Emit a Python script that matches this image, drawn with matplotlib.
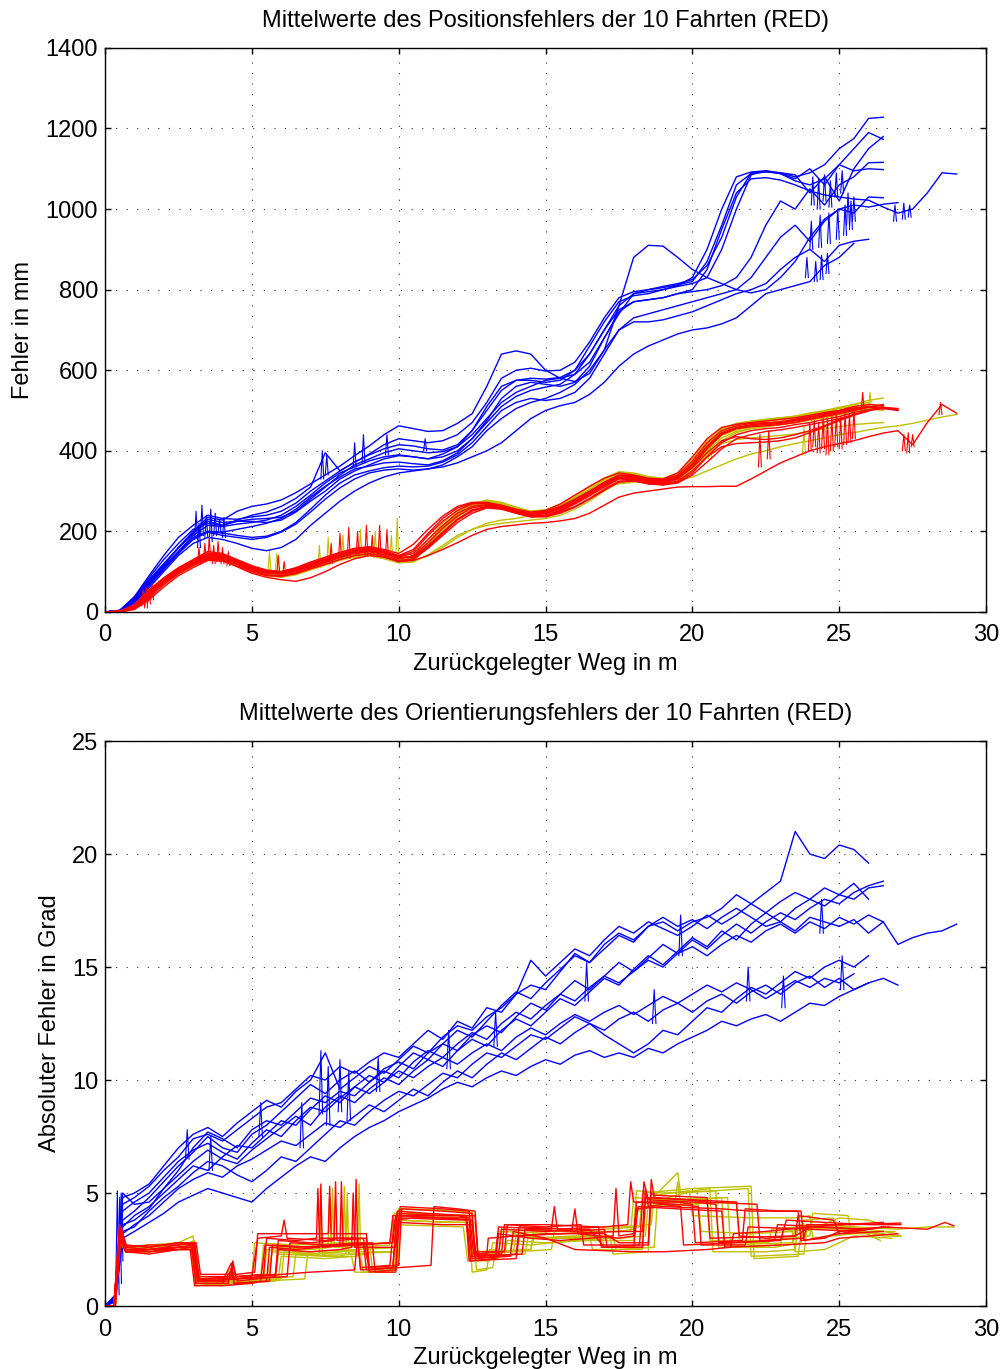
import numpy as np
import matplotlib.pyplot as plt

plt.rcParams['font.family'] = ['Liberation Sans', 'DejaVu Sans']

# ---------------- Positionsfehler (oben), Raster 0.5 m ----------------
x_pos = np.arange(0, 29.01, 0.5)

pos_blue = [
    [0, 3, 30, 75, 115, 160, 200, 235, 228, 250,
     262, 268, 278, 296, 318, 340, 362, 388, 412, 440,
     462, 455, 448, 450, 468, 492, 560, 640, 648, 640,
     600, 580, 572, 592, 650, 760, 880, 910, 908, 880,
     850, 830, 815, 800, 792, 800, 830, 870, 930, 975,
     1000, 1010, 1005, 1012, 1016],
    [0, 4, 35, 85, 130, 170, 205, 220, 215, 225,
     230, 232, 235, 250, 280, 310, 340, 365, 380, 395,
     405, 400, 395, 398, 410, 440, 480, 520, 545, 560,
     575, 580, 590, 620, 680, 740, 790, 800, 805, 812,
     820, 870, 960, 1060, 1088, 1092, 1090, 1080, 1090, 1110,
     1150, 1175, 1225, 1228],
    [0, 3, 28, 70, 110, 150, 190, 215, 212, 218,
     222, 228, 240, 262, 290, 320, 345, 360, 375, 385,
     390, 385, 380, 392, 410, 450, 510, 560, 575, 575,
     570, 575, 600, 660, 720, 770, 785, 790, 800, 810,
     830, 900, 1000, 1080, 1092, 1095, 1088, 1070, 1060, 1075,
     1110, 1150, 1190, 1173],
    [0, 2, 25, 65, 105, 145, 180, 200, 198, 205,
     212, 220, 232, 255, 285, 312, 335, 355, 362, 370,
     372, 368, 365, 375, 395, 430, 470, 510, 535, 550,
     558, 565, 590, 640, 700, 750, 770, 775, 780, 790,
     800, 850, 950, 1040, 1075, 1078, 1072, 1060, 1045, 1035,
     1030, 1025, 1022, 1005, 990, 1000, 1040, 1090, 1087],
    [0, 3, 32, 80, 120, 160, 195, 230, 222, 225,
     225, 222, 228, 248, 275, 300, 330, 350, 365, 380,
     388, 385, 380, 385, 400, 430, 475, 530, 560, 570,
     565, 560, 570, 610, 680, 745, 770, 775, 780, 790,
     795, 800, 810, 830, 880, 960, 1020, 1000, 1050, 1010,
     1060, 1080, 1115, 1116],
    [0, 2, 22, 60, 100, 140, 170, 185, 180, 170,
     158, 152, 160, 180, 215, 245, 275, 300, 320, 335,
     345, 350, 355, 360, 370, 385, 400, 420, 450, 480,
     500, 512, 520, 540, 570, 610, 640, 660, 675, 690,
     700, 705, 715, 730, 760, 790, 800, 810, 820, 860,
     880, 915],
    [0, 3, 30, 72, 112, 150, 185, 200, 196, 190,
     185, 188, 200, 222, 255, 290, 320, 340, 350, 358,
     362, 360, 362, 372, 390, 420, 460, 500, 520, 530,
     525, 530, 545, 580, 640, 700, 730, 740, 750, 760,
     770, 780, 790, 800, 830, 880, 930, 960, 920, 970,
     1000, 990, 1030, 1028],
    [0, 4, 38, 90, 140, 185, 215, 240, 232, 230,
     236, 240, 250, 270, 300, 325, 350, 372, 390, 405,
     415, 412, 405, 402, 415, 450, 500, 550, 575, 580,
     578, 582, 600, 640, 700, 760, 790, 795, 800, 808,
     815, 830, 900, 1000, 1085, 1095, 1090, 1085, 1040, 1080,
     1020, 1100, 1150, 1180],
    [0, 2, 26, 68, 108, 148, 180, 198, 190, 185,
     180, 185, 198, 218, 248, 280, 308, 330, 345, 352,
     355, 352, 355, 365, 385, 410, 450, 480, 505, 520,
     530, 545, 565, 600, 650, 700, 720, 720, 725, 735,
     745, 760, 775, 790, 800, 815, 850, 880, 900, 870,
     910, 920, 925],
    [0, 3, 33, 78, 118, 158, 195, 225, 215, 228,
     240, 248, 262, 282, 310, 395, 350, 372, 392, 415,
     430, 425, 420, 425, 440, 470, 520, 580, 600, 605,
     598, 600, 620, 670, 730, 780, 795, 800, 808, 815,
     825, 860, 930, 1030, 1090, 1093, 1088, 1075, 1100, 1060,
     1110, 1095, 1100, 1098],
]

pos_red = [
    [0, 2, 15, 50, 80, 105, 125, 145, 140, 125,
     110, 100, 98, 108, 120, 130, 142, 152, 158, 150,
     138, 150, 190, 225, 252, 268, 270, 262, 252, 245,
     250, 262, 280, 300, 322, 340, 338, 330, 328, 340,
     375, 420, 450, 462, 468, 470, 472, 478, 485, 490,
     498, 505, 510, 505, 502],
    [0, 1, 12, 45, 75, 100, 120, 138, 135, 120,
     105, 96, 95, 102, 115, 126, 138, 148, 152, 146,
     132, 140, 172, 208, 238, 258, 265, 258, 248, 240,
     244, 255, 272, 292, 315, 332, 330, 322, 320, 330,
     360, 405, 440, 455, 460, 462, 465, 470, 478, 485,
     492, 500, 508, 515],
    [0, 0, 8, 35, 68, 95, 115, 132, 130, 118,
     102, 92, 90, 97, 110, 122, 135, 145, 150, 142,
     128, 132, 158, 190, 222, 245, 258, 255, 245, 236,
     238, 248, 262, 282, 305, 325, 326, 318, 316, 322,
     345, 385, 420, 440, 450, 455, 458, 465, 470, 478,
     485, 495, 502, 508],
    [0, 1, 10, 40, 72, 98, 118, 135, 132, 120,
     106, 98, 96, 104, 116, 128, 140, 150, 155, 148,
     135, 138, 165, 198, 230, 252, 262, 258, 248, 238,
     240, 250, 268, 288, 310, 330, 328, 320, 318, 325,
     350, 385, 410, 418, 420, 422, 425, 432, 445, 460,
     475, 488, 500, 508, 505],
    [0, 0, 6, 30, 62, 90, 110, 128, 126, 114,
     100, 90, 88, 95, 107, 118, 130, 140, 145, 138,
     125, 128, 140, 155, 172, 190, 205, 212, 216, 220,
     222, 226, 232, 245, 265, 285, 295, 300, 305, 310,
     311, 311, 312, 312, 330, 350, 370, 385, 400, 410,
     418, 425, 435, 444, 450, 415, 470, 515, 493],
    [0, 2, 18, 55, 85, 110, 130, 150, 145, 130,
     115, 104, 100, 110, 124, 136, 148, 158, 162, 155,
     145, 168, 205, 238, 262, 272, 272, 265, 255, 248,
     252, 268, 290, 312, 332, 345, 340, 332, 330, 345,
     385, 430, 458, 466, 470, 474, 478, 482, 488, 495,
     500, 510, 515, 512],
    [0, 1, 10, 42, 74, 100, 118, 132, 128, 112,
     96, 86, 80, 76, 85, 100, 118, 132, 140, 136,
     125, 130, 160, 195, 228, 250, 260, 256, 245, 236,
     236, 245, 260, 280, 302, 322, 325, 318, 315, 320,
     340, 372, 405, 430, 440, 448, 452, 458, 465, 472,
     480, 490, 498],
    [0, 2, 16, 52, 82, 108, 128, 146, 142, 128,
     112, 102, 100, 108, 121, 133, 146, 156, 160, 152,
     140, 155, 195, 232, 258, 270, 268, 260, 250, 244,
     248, 260, 278, 298, 320, 338, 336, 328, 326, 336,
     368, 412, 445, 458, 465, 468, 470, 476, 483, 492,
     500, 506, 508, 504],
    [0, 1, 12, 46, 77, 102, 121, 140, 136, 122,
     107, 97, 94, 100, 113, 125, 138, 148, 153, 146,
     134, 136, 162, 196, 230, 253, 262, 257, 247, 238,
     240, 252, 270, 292, 314, 333, 332, 325, 322, 332,
     358, 395, 425, 435, 430, 428, 432, 440, 450, 462,
     478, 490, 500, 505, 500],
    [0, 1, 14, 48, 78, 104, 123, 142, 138, 124,
     108, 99, 97, 105, 118, 130, 143, 153, 157, 150,
     137, 145, 180, 215, 245, 262, 266, 259, 250, 242,
     245, 258, 275, 295, 318, 335, 334, 326, 324, 334,
     365, 410, 442, 456, 462, 465, 468, 474, 480, 488,
     495, 503, 510, 508, 502],
]

pos_yellow = [
    [0, 1, 12, 46, 78, 104, 124, 140, 138, 125,
     110, 100, 96, 104, 116, 128, 138, 145, 148, 140,
     128, 135, 170, 210, 245, 268, 278, 272, 260, 250,
     252, 262, 282, 305, 328, 345, 342, 334, 330, 340,
     372, 418, 452, 465, 472, 478, 482, 485, 490, 495,
     505, 515, 525, 531],
    [0, 1, 10, 42, 74, 100, 120, 136, 134, 120,
     104, 94, 90, 96, 108, 120, 130, 138, 140, 132,
     122, 128, 160, 200, 236, 262, 275, 270, 258, 248,
     250, 260, 278, 300, 322, 340, 338, 330, 326, 336,
     366, 410, 448, 462, 470, 475, 480, 486, 494, 500,
     508, 515, 520],
    [0, 0, 8, 38, 70, 96, 116, 134, 131, 118,
     102, 92, 88, 94, 106, 118, 130, 138, 142, 135,
     124, 126, 140, 160, 185, 205, 220, 228, 232, 240,
     250, 265, 285, 300, 310, 318, 322, 324, 326, 328,
     335, 350, 365, 380, 392, 400, 410, 418, 425, 432,
     440, 445, 452, 458, 462, 468, 476, 484, 490],
    [0, 2, 14, 50, 80, 106, 126, 142, 140, 126,
     112, 104, 100, 108, 120, 132, 140, 146, 146, 138,
     130, 140, 180, 220, 252, 270, 276, 268, 258, 250,
     254, 266, 286, 310, 332, 348, 345, 336, 332, 345,
     380, 425, 455, 468, 474, 478, 482, 486, 492, 498,
     505, 510, 515, 512],
    [0, 1, 10, 44, 76, 102, 120, 137, 134, 121,
     106, 97, 92, 98, 110, 122, 132, 140, 142, 134,
     124, 130, 165, 205, 240, 264, 272, 266, 256, 246,
     248, 258, 275, 296, 318, 336, 335, 328, 324, 332,
     360, 402, 438, 452, 458, 462, 466, 470, 478, 486,
     495, 502, 508],
    [0, 1, 11, 44, 75, 101, 121, 138, 135, 122,
     106, 96, 92, 99, 111, 123, 133, 140, 143, 136,
     125, 130, 162, 200, 235, 260, 270, 264, 254, 245,
     247, 256, 272, 292, 314, 332, 332, 326, 322, 330,
     356, 392, 418, 428, 432, 435, 438, 442, 448, 455,
     460, 465, 468, 470],
    [0, 2, 15, 50, 80, 105, 125, 141, 138, 124,
     108, 99, 95, 102, 114, 126, 136, 143, 145, 137,
     126, 134, 172, 212, 248, 268, 276, 270, 258, 249,
     250, 262, 280, 302, 324, 342, 340, 332, 328, 338,
     370, 415, 450, 464, 470, 474, 478, 483, 488, 494,
     500, 506, 512],
    [0, 0, 8, 36, 68, 94, 114, 132, 130, 116,
     100, 90, 86, 92, 104, 116, 128, 136, 140, 134,
     122, 124, 142, 165, 190, 205, 215, 220, 224, 228,
     232, 240, 255, 275, 300, 322, 326, 322, 320, 328,
     352, 388, 425, 445, 455, 460, 465, 470, 476, 482,
     490, 498, 505, 510],
    [0, 1, 13, 47, 78, 103, 122, 139, 136, 123,
     108, 98, 94, 101, 113, 125, 135, 142, 144, 136,
     125, 132, 168, 208, 244, 266, 274, 268, 257, 247,
     249, 260, 277, 298, 320, 338, 337, 330, 326, 334,
     362, 405, 442, 456, 462, 468, 474, 480, 486, 492,
     498, 505, 510],
    [0, 1, 11, 45, 76, 102, 121, 138, 135, 122,
     107, 97, 93, 100, 112, 124, 134, 141, 143, 135,
     124, 130, 164, 202, 238, 262, 272, 266, 256, 247,
     249, 259, 276, 297, 318, 336, 336, 329, 325, 333,
     358, 398, 432, 448, 455, 460, 465, 470, 476, 484,
     490, 498, 505, 500],
]

# kurze Ausreisser (Position): Ort, Grundwert, Spitzenwert
pos_blue_spk_x = [3.1, 3.2, 3.3, 3.45, 3.6, 3.75, 3.9, 4.05, 7.4, 7.55, 8.5, 8.8, 9.6, 10.9,
                  23.9, 24.1, 24.2, 24.3, 24.4, 24.5, 24.6, 24.7, 24.9, 25.1, 25.3, 25.5,
                  24.05, 24.35, 24.65, 24.95, 25.2, 25.4,
                  26.9, 27.2, 27.4]
pos_blue_spk_lo = [180, 160, 190, 185, 175, 190, 195, 185, 330, 340, 360, 370, 390, 400,
                   830, 1010, 820, 1000, 825, 1020, 840, 1005, 1030, 1040, 960, 970,
                   900, 905, 915, 925, 935, 950,
                   970, 975, 980]
pos_blue_spk_hi = [250, 220, 265, 240, 255, 245, 230, 235, 400, 390, 420, 440, 440, 430,
                   880, 1080, 870, 1075, 885, 1085, 890, 1070, 1090, 1095, 1040, 1030,
                   970, 985, 990, 1000, 1010, 1020,
                   1010, 1015, 1010]

pos_red_spk_x = [1.3, 1.4, 1.5, 1.6, 3.2, 3.4, 3.55, 3.7, 3.85, 4.0, 4.2, 5.9, 6.1,
                 7.7, 8.0, 8.3, 8.6, 8.9, 9.1, 9.35, 9.6, 22.3, 22.6,
                 24.0, 24.15, 24.3, 24.45, 24.6, 24.75, 24.9, 25.05, 25.2, 25.35, 25.5,
                 25.8, 27.2, 27.35, 27.5, 28.45]
pos_red_spk_lo = [15, 10, 20, 30, 120, 125, 130, 120, 125, 120, 115, 95, 95,
                  120, 130, 135, 140, 140, 140, 138, 135, 360, 380,
                  400, 410, 395, 405, 390, 400, 410, 405, 415, 420, 430,
                  500, 400, 395, 410, 490]
pos_red_spk_hi = [55, 60, 50, 70, 160, 170, 185, 165, 175, 160, 150, 140, 125,
                  170, 195, 210, 200, 215, 190, 215, 205, 440, 450,
                  470, 475, 470, 480, 478, 485, 490, 485, 495, 492, 500,
                  545, 440, 445, 440, 520]

pos_yel_spk_x = [5.6, 5.85, 7.3, 7.6, 8.1, 8.7, 9.2, 9.75, 9.95, 20.6, 23.8, 24.5, 26.05]
pos_yel_spk_lo = [100, 100, 110, 120, 130, 135, 135, 130, 130, 380, 390, 430, 505]
pos_yel_spk_hi = [150, 145, 165, 185, 190, 205, 200, 190, 232, 430, 460, 470, 546]

# ---------------- Orientierungsfehler (unten) ----------------
x_ori = np.concatenate([[0, 0.35, 0.6], np.arange(1.0, 29.01, 0.5)])

ori_blue = [
    [0, 0.3, 4.5, 4.8, 5.3, 6.0, 6.6, 7.4, 7.6, 7.3, 7.8,
     8.3, 8.8, 9.0, 9.6, 10.2, 10.0, 10.6, 10.3, 10.8, 11.2,
     11.0, 11.6, 12.2, 11.8, 12.6, 12.3, 13.2, 13.0, 13.8, 14.2,
     14.0, 14.8, 15.6, 15.2, 16.0, 16.5, 16.2, 16.8, 17.0, 16.6,
     17.0, 17.2, 17.6, 18.2, 17.8, 18.3, 18.8, 21.0, 20.0, 19.8,
     20.4, 20.2, 19.6],
    [0, 0.3, 3.8, 4.2, 4.8, 5.5, 6.2, 6.8, 7.5, 7.0, 6.8,
     7.6, 8.0, 8.6, 9.2, 9.8, 9.4, 10.0, 10.4, 9.9, 10.5,
     10.8, 10.5, 11.2, 11.6, 11.3, 12.0, 12.4, 12.1, 12.8, 13.4,
     13.1, 13.8, 14.4, 14.0, 14.6, 15.2, 14.8, 15.4, 16.0, 15.6,
     16.2, 15.8, 16.4, 16.9, 16.5, 17.0, 17.4, 17.1, 17.6, 18.0,
     17.8, 18.3, 18.6, 18.8],
    [0, 0.4, 5.0, 4.5, 4.6, 5.2, 5.8, 6.4, 6.9, 6.5, 6.3,
     6.9, 7.4, 7.9, 8.4, 8.0, 8.8, 9.3, 9.0, 9.6, 10.1,
     9.8, 10.4, 10.9, 10.6, 11.3, 11.8, 11.5, 12.2, 12.7, 12.4,
     13.0, 13.6, 13.3, 13.9, 14.5, 14.2, 14.9, 15.5, 15.1, 15.7,
     16.3, 15.9, 16.6, 16.2, 16.9, 17.4, 17.0, 17.6, 18.0, 17.7,
     18.2, 18.0, 18.5, 18.6],
    [0, 0.3, 3.5, 4.0, 4.4, 5.0, 5.6, 6.2, 6.0, 6.6, 7.1,
     7.0, 7.6, 8.2, 8.0, 8.7, 9.3, 9.0, 9.7, 10.2, 9.9,
     10.6, 11.2, 10.9, 11.6, 12.2, 11.9, 12.6, 13.3, 13.9, 13.6,
     14.3, 14.9, 15.5, 15.2, 15.8, 16.4, 16.1, 16.8, 17.2, 16.8,
     17.1, 16.7, 17.2, 17.6, 17.2, 16.8, 17.0, 16.6, 17.2, 17.0,
     16.8, 17.1, 16.5, 17.0, 16.0, 16.3, 16.5, 16.6, 16.9],
    [0, 0.2, 3.2, 3.6, 4.0, 4.6, 5.2, 5.6, 5.9, 5.7, 6.2,
     6.5, 6.9, 7.3, 7.1, 7.6, 8.1, 7.9, 8.4, 8.9, 8.6,
     9.1, 9.6, 9.3, 9.9, 10.4, 10.1, 10.7, 11.2, 10.9, 11.4,
     11.9, 11.6, 12.1, 12.5, 12.2, 12.7, 13.0, 12.6, 13.1, 13.4,
     13.0, 13.5, 13.8, 13.4, 13.9, 14.2, 13.8, 14.3, 14.6, 14.1,
     14.5, 14.0, 14.3, 14.5, 14.2],
    [0, 0.2, 3.0, 3.3, 3.7, 4.1, 4.6, 4.9, 5.2, 5.0, 4.8,
     4.6, 5.2, 5.7, 6.2, 6.6, 6.4, 7.0, 7.5, 7.9, 8.2,
     8.6, 8.9, 9.2, 9.6, 9.9, 9.7, 10.1, 10.4, 10.2, 10.6,
     10.9, 10.7, 11.1, 11.3, 11.0, 11.2, 11.0, 11.4, 11.2, 11.6,
     11.9, 12.2, 12.6, 12.4, 12.7, 12.9, 12.6, 13.0, 13.4, 13.3,
     13.7, 14.0, 14.3],
    [0, 0.4, 3.6, 3.8, 4.3, 5.2, 6.0, 7.0, 7.7, 7.4, 7.0,
     7.8, 8.2, 8.0, 8.6, 9.2, 9.0, 9.5, 9.3, 9.9, 10.4,
     10.1, 10.8, 11.3, 11.0, 11.6, 12.1, 11.8, 12.5, 13.0, 12.7,
     13.3, 13.8, 13.5, 14.1, 14.6, 14.3, 14.8, 15.3, 15.0, 15.6,
     15.9, 15.5, 16.0, 16.4, 16.1, 16.6, 16.9, 16.5, 17.0, 16.7,
     17.2, 16.9, 17.3, 17.0],
    [0, 0.3, 3.3, 3.5, 4.2, 4.8, 5.3, 5.9, 6.4, 6.2, 5.8,
     5.5, 6.0, 6.6, 6.4, 7.0, 7.6, 8.2, 8.0, 8.6, 9.1,
     9.5, 9.3, 9.8, 10.3, 10.1, 10.7, 11.2, 11.0, 11.5, 12.0,
     11.8, 12.3, 12.8, 12.5, 12.0, 11.6, 11.2, 11.6, 12.2, 12.0,
     12.6, 13.2, 13.0, 13.6, 14.1, 13.8, 14.3, 14.8, 14.5, 15.0,
     15.3, 15.0, 15.5],
    [0, 0.4, 4.2, 4.6, 5.0, 5.7, 6.4, 6.9, 7.2, 6.8, 6.5,
     7.2, 7.8, 7.5, 8.2, 8.8, 8.6, 9.2, 9.7, 9.4, 9.9,
     10.4, 10.1, 10.6, 11.0, 10.7, 11.2, 11.6, 11.3, 11.9, 12.3,
     12.0, 12.5, 12.9, 12.6, 13.0, 13.3, 12.9, 13.3, 13.7, 13.4,
     13.8, 14.2, 13.9, 14.3, 14.0, 13.6, 14.0, 14.4, 14.1, 14.5,
     14.3, 14.7],
    [0, 0.5, 4.8, 5.0, 5.4, 6.2, 7.0, 7.6, 7.9, 7.5, 8.1,
     8.6, 9.1, 8.8, 9.5, 10.0, 11.2, 9.6, 10.1, 10.6, 10.3,
     10.9, 11.5, 11.2, 11.9, 12.4, 12.2, 12.8, 13.2, 13.8, 15.3,
     14.6, 15.2, 15.8, 15.5, 16.2, 16.8, 16.5, 17.0, 16.7, 16.4,
     16.8, 17.3, 16.9, 17.3, 17.8, 17.4, 17.9, 18.3, 18.0, 18.5,
     18.2, 18.7, 18.0],
]

ori_blue_spk_x = [0.42, 0.5, 0.55, 2.8, 3.6, 5.3, 6.7, 7.35, 7.6, 8.0, 8.3, 9.3, 11.7,
                  13.3, 16.4, 18.7, 19.6, 21.9, 23.1, 24.4, 25.1]
ori_blue_spk_lo = [0.5, 1.0, 2.0, 6.5, 6.0, 7.5, 7.0, 8.5, 8.0, 8.6, 8.2, 9.5, 10.5,
                   11.5, 13.5, 12.5, 15.5, 13.5, 13.2, 16.5, 14.0]
ori_blue_spk_hi = [5.1, 4.8, 5.0, 7.8, 7.5, 9.0, 9.0, 11.3, 10.6, 10.9, 10.4, 11.0, 12.2,
                   13.0, 15.2, 14.0, 17.3, 15.0, 14.6, 18.0, 15.5]

# Stufenverlaeufe (x, Fehler) der roten Fahrten
ori_red = [
    [(0, 0), (0.3, 0), (0.5, 3.5), (0.7, 2.6), (1.5, 2.5), (2.5, 2.7), (3.0, 2.8), (3.15, 1.2),
     (4.0, 1.1), (4.3, 1.9), (4.4, 1.2), (5.0, 1.3), (5.2, 3.0), (6.0, 3.1), (6.1, 3.8), (6.2, 3.0),
     (7.5, 2.9), (8.0, 3.0), (8.8, 3.0), (9.0, 1.6), (9.8, 1.7), (9.95, 4.2), (11.0, 4.1), (12.3, 4.0),
     (12.5, 2.2), (13.4, 2.3), (13.5, 3.4), (15.0, 3.3), (16.5, 3.4), (17.0, 2.6), (18.2, 2.7),
     (18.35, 5.5), (18.5, 4.7), (20.0, 4.6), (20.8, 4.5), (20.9, 2.8), (23.0, 2.9), (23.2, 3.8),
     (24.5, 3.7), (26.0, 3.6), (27.1, 3.6)],
    [(0, 0), (0.35, 0), (0.55, 3.2), (0.75, 2.4), (1.5, 2.4), (2.5, 2.5), (2.95, 2.6), (3.1, 1.0),
     (4.2, 1.0), (4.3, 1.7), (4.4, 1.0), (5.5, 1.1), (5.6, 2.6), (6.5, 2.5), (7.3, 2.6), (7.35, 5.4),
     (7.4, 2.6), (8.5, 2.7), (9.8, 2.8), (9.9, 4.0), (11.5, 3.9), (12.5, 3.8), (12.6, 2.1), (14.0, 2.3),
     (14.1, 3.5), (15.9, 3.4), (16.0, 4.3), (16.1, 3.2), (17.5, 3.0), (18.0, 3.1), (18.1, 4.6),
     (19.5, 4.5), (20.2, 4.4), (20.3, 2.7), (21.8, 2.7), (21.9, 3.5), (24.0, 3.4), (25.5, 3.3),
     (26.5, 3.5), (28.0, 3.4), (28.6, 3.7), (28.9, 3.55)],
    [(0, 0), (0.3, 0), (0.5, 3.6), (0.65, 2.7), (1.5, 2.6), (2.5, 2.8), (3.05, 2.7), (3.2, 1.3),
     (4.3, 1.3), (4.35, 2.0), (4.45, 1.3), (5.8, 1.4), (5.9, 2.9), (7.0, 2.8), (7.8, 2.9), (7.85, 5.5),
     (7.9, 2.9), (8.9, 3.0), (9.0, 1.5), (9.9, 1.6), (10.05, 4.4), (11.5, 4.3), (12.4, 4.2),
     (12.55, 2.3), (13.0, 2.3), (13.05, 3.0), (14.0, 3.1), (15.0, 3.2), (17.0, 3.2), (17.5, 2.8),
     (18.5, 2.8), (18.6, 5.6), (18.7, 4.8), (20.0, 4.7), (21.5, 4.6), (21.6, 3.1), (22.5, 3.0),
     (23.5, 3.1), (24.0, 3.5), (26.0, 3.4), (26.5, 3.5)],
    [(0, 0), (0.3, 0), (0.5, 3.3), (0.7, 2.5), (1.5, 2.5), (2.5, 2.6), (3.0, 2.6), (3.15, 1.1),
     (4.5, 1.2), (6.0, 1.4), (7.0, 1.5), (8.5, 1.6), (8.6, 3.0), (8.7, 1.7), (9.7, 1.8), (9.85, 3.8),
     (10.5, 3.9), (12.3, 3.9), (12.45, 2.0), (13.3, 2.1), (13.4, 3.2), (14.5, 3.0), (15.5, 2.9),
     (16.5, 3.0), (17.3, 3.1), (17.4, 5.2), (17.5, 3.1), (18.0, 3.2), (18.1, 4.3), (19.0, 4.4),
     (21.0, 4.3), (22.0, 4.2), (23.6, 4.2), (23.7, 2.9), (24.5, 3.0), (25.0, 3.3), (26.0, 3.4)],
    [(0, 0), (0.35, 0), (0.5, 3.0), (0.7, 2.4), (1.5, 2.3), (2.5, 2.5), (2.9, 2.5), (3.05, 0.9),
     (4.0, 0.9), (5.0, 1.0), (5.3, 1.1), (5.45, 2.7), (6.5, 2.6), (8.0, 2.7), (8.05, 5.5), (8.1, 2.7),
     (9.1, 2.8), (9.2, 1.5), (9.9, 1.5), (10.0, 3.7), (11.5, 3.6), (12.5, 3.6), (12.65, 2.2),
     (14.2, 2.3), (14.3, 3.4), (16.0, 3.3), (17.0, 3.4), (17.1, 2.6), (18.0, 2.6), (18.15, 4.4),
     (19.5, 4.3), (21.0, 4.2), (21.1, 2.6), (23.0, 2.7), (24.5, 2.8), (25.0, 3.0), (26.0, 3.1),
     (27.0, 3.2)],
    [(0, 0), (0.3, 0), (0.55, 3.4), (0.75, 2.6), (1.5, 2.7), (2.5, 2.7), (3.1, 2.8), (3.25, 1.4),
     (4.5, 1.4), (5.1, 1.5), (5.2, 3.2), (6.5, 3.2), (7.6, 3.2), (7.65, 5.3), (7.7, 3.2), (8.9, 3.2),
     (9.0, 1.7), (10.0, 1.8), (10.1, 4.3), (11.5, 4.2), (12.5, 4.1), (12.6, 2.4), (13.6, 2.4),
     (13.7, 3.6), (15.0, 3.5), (16.2, 3.6), (16.3, 2.7), (18.5, 2.7), (18.6, 5.0), (18.7, 4.9),
     (20.5, 4.8), (20.6, 3.0), (23.5, 3.1), (23.6, 4.0), (24.8, 3.8), (25.0, 3.2), (26.0, 3.4)],
    [(0, 0), (0.3, 0), (0.5, 3.2), (0.7, 2.5), (1.5, 2.4), (2.5, 2.6), (2.95, 2.6), (3.1, 1.0),
     (4.0, 1.0), (4.3, 1.6), (4.4, 1.0), (5.6, 1.1), (5.7, 2.7), (7.0, 2.6), (8.5, 2.7), (8.55, 5.6),
     (8.6, 2.7), (9.7, 2.8), (9.8, 4.0), (12.0, 4.0), (12.4, 3.9), (12.5, 2.1), (13.8, 2.2),
     (13.9, 3.3), (15.0, 3.0), (16.0, 2.5), (18.0, 2.4), (19.0, 2.4), (20.5, 2.5), (21.3, 2.6),
     (21.4, 3.2), (22.5, 3.3), (24.0, 3.5), (25.0, 3.6), (26.5, 3.7)],
    [(0, 0), (0.3, 0), (0.5, 3.3), (0.7, 2.5), (1.5, 2.5), (2.5, 2.6), (3.0, 2.7), (3.15, 1.2),
     (4.5, 1.2), (6.2, 1.3), (6.3, 2.8), (7.5, 2.7), (8.8, 2.8), (8.9, 1.6), (10.0, 1.7), (11.1, 1.8),
     (11.2, 4.4), (12.0, 4.3), (12.6, 4.2), (12.7, 2.3), (13.3, 2.4), (13.4, 3.5), (15.2, 3.4),
     (15.3, 4.4), (15.4, 3.4), (17.0, 3.5), (17.8, 3.6), (17.9, 5.5), (18.0, 4.6), (19.5, 4.6),
     (20.0, 4.5), (20.1, 2.8), (21.7, 2.9), (21.8, 4.3), (23.0, 4.2), (23.7, 4.2), (23.8, 2.9),
     (25.0, 3.2), (26.5, 3.3)],
    [(0, 0), (0.35, 0), (0.5, 3.1), (0.7, 2.4), (1.5, 2.5), (2.5, 2.5), (3.0, 2.5), (3.2, 1.1),
     (4.2, 1.1), (4.35, 1.9), (4.5, 1.1), (5.8, 1.3), (5.9, 2.5), (7.0, 2.4), (8.0, 2.5), (8.4, 2.6),
     (8.45, 5.0), (8.5, 2.6), (9.9, 2.6), (10.0, 3.9), (12.3, 3.8), (12.4, 2.0), (14.0, 2.1),
     (14.1, 3.1), (15.5, 3.2), (17.5, 3.3), (18.3, 3.3), (18.4, 5.2), (18.5, 4.4), (19.0, 4.5),
     (19.6, 4.4), (19.7, 2.7), (21.5, 2.8), (22.8, 2.9), (22.9, 3.6), (24.5, 3.5), (25.5, 3.4),
     (26.7, 3.5)],
    [(0, 0), (0.3, 0), (0.55, 3.5), (0.7, 2.7), (1.5, 2.6), (2.5, 2.8), (3.05, 2.8), (3.2, 1.2),
     (4.4, 1.3), (5.4, 1.4), (5.5, 3.0), (6.5, 2.9), (7.2, 3.0), (7.25, 5.2), (7.3, 3.0), (8.6, 3.0),
     (8.7, 1.6), (9.8, 1.7), (9.95, 4.1), (11.5, 4.0), (12.6, 4.0), (12.7, 2.2), (13.5, 2.3),
     (13.6, 3.6), (15.0, 3.6), (16.8, 3.5), (16.9, 2.6), (18.3, 2.6), (18.4, 4.8), (19.8, 4.7),
     (20.5, 4.6), (22.2, 4.5), (22.3, 2.9), (23.8, 3.0), (23.9, 3.6), (25.5, 3.6), (27.1, 3.67)],
]

ori_yellow = [
    [(0, 0), (0.3, 0), (0.5, 3.0), (0.7, 2.6), (1.5, 2.6), (2.5, 2.8), (3.0, 3.1), (3.15, 1.1),
     (4.5, 1.1), (5.5, 1.2), (5.7, 2.4), (7.0, 2.3), (8.0, 2.4), (8.6, 2.5), (8.65, 5.4), (8.7, 2.5),
     (9.9, 2.6), (10.05, 4.2), (11.5, 4.0), (12.5, 4.0), (12.65, 1.6), (13.2, 1.7), (13.3, 2.4),
     (14.5, 2.5), (14.6, 3.0), (17.5, 3.0), (18.4, 3.1), (18.5, 4.6), (19.5, 5.9), (19.6, 5.0),
     (21.9, 5.2), (22.0, 2.2), (23.8, 2.3), (23.9, 3.4), (25.0, 3.5), (26.5, 3.1), (27.1, 3.08)],
    [(0, 0), (0.35, 0), (0.5, 2.8), (0.7, 2.5), (1.5, 2.5), (2.5, 2.6), (3.05, 2.9), (3.2, 1.0),
     (4.0, 0.9), (5.0, 1.1), (5.9, 1.2), (6.0, 2.2), (7.5, 2.1), (8.5, 2.2), (8.9, 2.3), (9.0, 1.6),
     (9.9, 1.6), (10.0, 4.0), (12.4, 3.9), (12.5, 2.3), (13.8, 2.4), (13.9, 3.2), (15.0, 3.0),
     (16.5, 3.1), (16.6, 2.5), (18.3, 2.5), (18.4, 4.5), (20.0, 5.1), (20.6, 5.2), (20.7, 2.4),
     (22.5, 2.4), (23.5, 2.5), (23.6, 3.6), (25.5, 3.5), (26.4, 2.9)],
    [(0, 0), (0.3, 0), (0.5, 3.1), (0.7, 2.5), (1.5, 2.6), (2.5, 2.7), (3.0, 2.8), (3.1, 1.3),
     (4.5, 1.3), (5.6, 1.4), (5.7, 2.6), (7.0, 2.5), (7.7, 2.6), (7.75, 5.2), (7.8, 2.6), (9.7, 2.7),
     (9.8, 3.8), (12.3, 3.7), (12.45, 2.1), (13.3, 2.2), (13.4, 3.3), (15.5, 3.2), (17.0, 3.3),
     (17.9, 3.3), (18.0, 4.8), (19.0, 4.7), (21.2, 4.8), (21.3, 2.6), (23.0, 2.7), (23.1, 3.3),
     (25.0, 3.5), (26.0, 3.4), (27.0, 3.2)],
    [(0, 0), (0.35, 0), (0.5, 2.9), (0.7, 2.4), (1.5, 2.4), (2.5, 2.5), (2.9, 2.6), (3.05, 1.1),
     (4.2, 1.0), (5.2, 1.2), (6.4, 1.3), (6.5, 2.3), (8.0, 2.2), (8.2, 2.3), (8.25, 5.0), (8.3, 2.3),
     (9.9, 2.4), (10.0, 4.3), (12.5, 4.2), (12.6, 2.4), (14.5, 2.5), (14.6, 3.4), (16.0, 3.3),
     (17.0, 3.4), (18.2, 3.5), (18.3, 5.0), (20.0, 5.2), (22.0, 5.3), (22.1, 2.1), (23.6, 2.2),
     (23.7, 3.2), (25.0, 3.9), (26.0, 3.8), (26.5, 3.6)],
    [(0, 0), (0.3, 0), (0.5, 3.2), (0.7, 2.6), (1.5, 2.7), (2.5, 2.8), (3.1, 2.8), (3.25, 1.2),
     (4.5, 1.2), (5.0, 1.3), (5.1, 2.8), (6.5, 2.7), (8.0, 2.8), (9.0, 2.8), (9.1, 1.7), (9.95, 1.7),
     (10.1, 4.1), (12.5, 4.0), (12.6, 2.2), (13.6, 2.3), (13.7, 2.9), (15.0, 2.8), (16.5, 2.9),
     (18.0, 2.9), (18.1, 4.2), (19.0, 4.6), (20.5, 4.6), (20.6, 2.9), (22.5, 2.9), (24.0, 3.1),
     (24.1, 4.1), (25.3, 4.0), (25.4, 3.3), (26.5, 3.2)],
    [(0, 0), (0.3, 0), (0.5, 2.9), (0.7, 2.5), (1.5, 2.5), (2.5, 2.6), (2.95, 2.7), (3.1, 0.9),
     (4.3, 1.0), (4.35, 1.5), (4.45, 1.0), (5.8, 1.1), (5.9, 2.3), (7.5, 2.2), (8.4, 2.2), (8.5, 1.5),
     (9.8, 1.5), (9.9, 3.6), (12.2, 3.5), (12.35, 2.0), (13.1, 2.0), (13.2, 2.8), (14.5, 2.7),
     (16.0, 2.9), (17.2, 3.0), (17.3, 2.3), (18.5, 2.4), (18.6, 4.6), (20.3, 4.7), (21.0, 4.8),
     (21.1, 2.7), (23.4, 2.8), (23.5, 3.5), (25.0, 3.4), (26.0, 3.3), (26.9, 3.3)],
    [(0, 0), (0.35, 0), (0.5, 3.0), (0.7, 2.5), (1.5, 2.6), (2.5, 2.7), (3.0, 2.7), (3.15, 1.0),
     (4.5, 1.1), (5.4, 1.2), (5.5, 2.5), (7.0, 2.4), (8.6, 2.5), (9.9, 2.6), (10.0, 4.3), (12.0, 4.2),
     (12.5, 4.1), (12.6, 2.0), (13.4, 2.1), (13.5, 3.4), (15.0, 3.3), (16.5, 3.5), (17.5, 3.5),
     (18.6, 3.6), (18.7, 4.9), (19.9, 5.1), (20.0, 4.0), (22.0, 3.9), (23.5, 3.9), (24.0, 4.0),
     (24.1, 3.0), (25.5, 3.2), (26.0, 3.2)],
    [(0, 0), (0.3, 0), (0.55, 3.1), (0.7, 2.4), (1.5, 2.4), (2.5, 2.5), (3.05, 2.5), (3.2, 1.1),
     (4.0, 1.1), (4.2, 1.6), (4.3, 1.1), (6.0, 1.2), (6.1, 2.4), (7.3, 2.3), (7.35, 4.4), (7.4, 2.3),
     (8.7, 2.3), (8.8, 1.5), (9.85, 1.6), (10.0, 4.0), (11.5, 3.9), (12.4, 3.9), (12.5, 1.5),
     (13.0, 1.6), (13.1, 2.5), (14.0, 2.4), (15.2, 2.5), (15.3, 3.3), (17.5, 3.3), (18.0, 3.4),
     (18.1, 5.1), (19.0, 5.0), (20.8, 5.1), (20.9, 2.6), (22.8, 2.6), (23.7, 2.8), (23.8, 3.8),
     (24.8, 3.9), (25.0, 3.4), (27.1, 3.1)],
    [(0, 0), (0.3, 0), (0.5, 3.1), (0.7, 2.5), (1.5, 2.5), (2.5, 2.6), (3.05, 2.6), (3.15, 1.2),
     (4.6, 1.2), (5.3, 1.3), (5.4, 2.7), (6.5, 2.6), (7.6, 2.7), (7.65, 4.8), (7.7, 2.7), (9.7, 2.8),
     (9.85, 4.1), (12.4, 4.0), (12.55, 2.3), (13.9, 2.4), (14.0, 3.1), (15.5, 3.0), (16.9, 3.1),
     (17.0, 2.6), (18.3, 2.6), (18.4, 4.4), (19.4, 4.5), (19.5, 5.5), (19.6, 4.5), (21.5, 4.6),
     (21.6, 2.8), (22.6, 2.8), (22.7, 3.4), (24.5, 3.6), (25.5, 3.5), (27.0, 3.4), (28.0, 3.5),
     (28.9, 3.5)],
    [(0, 0), (0.35, 0), (0.5, 2.9), (0.7, 2.4), (1.5, 2.5), (2.5, 2.6), (2.95, 2.6), (3.1, 1.0),
     (4.5, 1.0), (5.3, 1.1), (6.8, 1.2), (6.9, 2.3), (8.1, 2.4), (8.15, 5.3), (8.2, 2.4), (9.9, 2.4),
     (10.05, 3.8), (11.5, 3.7), (12.6, 3.7), (12.7, 2.2), (14.3, 2.3), (14.4, 3.0), (16.0, 3.1),
     (17.3, 3.1), (17.4, 2.5), (18.7, 2.6), (18.8, 4.4), (20.2, 4.5), (20.3, 3.3), (22.0, 3.2),
     (23.4, 3.3), (23.5, 2.4), (24.5, 2.5), (25.5, 3.1), (26.8, 3.0)],
]

C_BLUE = '#0000FF'
C_RED = '#FF0000'
C_YEL = '#BFBF00'
LW = 1.0

fig = plt.figure(figsize=(10.03, 13.69), dpi=100)
ax1 = fig.add_axes([0.1047, 0.5530, 0.8784, 0.4120])
ax2 = fig.add_axes([0.1047, 0.0460, 0.8784, 0.4127])


def matlab_style(ax):
    ax.tick_params(direction='in', top=True, right=True, length=4.5, width=1.0,
                   labelsize=17, colors='black')
    ax.tick_params(axis='x', pad=9)
    ax.tick_params(axis='y', pad=5)
    ax.grid(True, color='#333333', linestyle=(0, (1, 8.5)), linewidth=0.8)
    ax.set_axisbelow(True)
    for s in ax.spines.values():
        s.set_linewidth(1.0)
    ax.set_xlim(0, 30)
    ax.set_xticks(range(0, 31, 5))


def spikes(ax, xs, lo, hi, color, half_width):
    # schmale Zacken: Anstieg vom Grundwert zur Spitze und zurueck
    for x, a, b in zip(xs, lo, hi):
        ax.plot([x - half_width, x, x + half_width], [a, b, a], color=color, lw=0.8)


# oben: Positionsfehler
for y in pos_blue:
    ax1.plot(x_pos[:len(y)], y, color=C_BLUE, lw=LW)
spikes(ax1, pos_blue_spk_x, pos_blue_spk_lo, pos_blue_spk_hi, C_BLUE, 0.05)
for y in pos_yellow:
    ax1.plot(x_pos[:len(y)], y, color=C_YEL, lw=LW)
spikes(ax1, pos_yel_spk_x, pos_yel_spk_lo, pos_yel_spk_hi, C_YEL, 0.05)
for y in pos_red:
    ax1.plot(x_pos[:len(y)], y, color=C_RED, lw=LW)
spikes(ax1, pos_red_spk_x, pos_red_spk_lo, pos_red_spk_hi, C_RED, 0.05)

matlab_style(ax1)
ax1.set_ylim(0, 1400)
ax1.set_yticks(range(0, 1401, 200))
ax1.set_title('Mittelwerte des Positionsfehlers der 10 Fahrten (RED)', fontsize=17, pad=15)
ax1.set_xlabel('Zurückgelegter Weg in m', fontsize=17, labelpad=5)
ax1.set_ylabel('Fehler in mm', fontsize=17, labelpad=8)

# unten: Orientierungsfehler
for y in ori_blue:
    ax2.plot(x_ori[:len(y)], y, color=C_BLUE, lw=LW)
spikes(ax2, ori_blue_spk_x, ori_blue_spk_lo, ori_blue_spk_hi, C_BLUE, 0.06)
for run in ori_yellow:
    xs, ys = zip(*run)
    ax2.plot(xs, ys, color=C_YEL, lw=LW)
for run in ori_red:
    xs, ys = zip(*run)
    ax2.plot(xs, ys, color=C_RED, lw=LW)

matlab_style(ax2)
ax2.set_ylim(0, 25)
ax2.set_yticks(range(0, 26, 5))
ax2.set_title('Mittelwerte des Orientierungsfehlers der 10 Fahrten (RED)', fontsize=17, pad=15)
ax2.set_xlabel('Zurückgelegter Weg in m', fontsize=17, labelpad=5)
ax2.set_ylabel('Absoluter Fehler in Grad', fontsize=17, labelpad=8)

fig.savefig('out.png', dpi=100)
